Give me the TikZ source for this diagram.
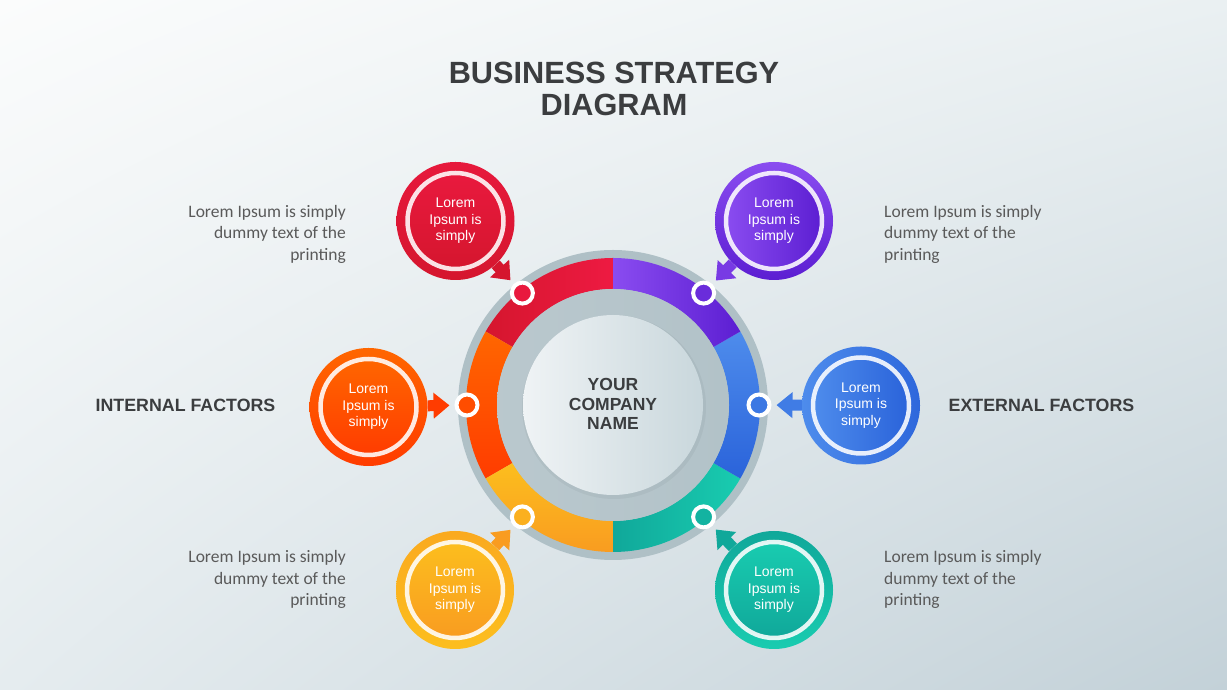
\documentclass[tikz,border=0pt]{standalone}
\usepackage{fontspec}
\setmainfont{Liberation Sans}
\newfontfamily\carl{Carlito}
\usetikzlibrary{arrows.meta,calc,shadings}
\definecolor{bgTL}{HTML}{FBFCFC}
\definecolor{bgTR}{HTML}{EAF0F2}
\definecolor{bgBL}{HTML}{E5ECEF}
\definecolor{bgBR}{HTML}{C3D1D8}
\definecolor{ringgray}{HTML}{AFC0C6}
\definecolor{innergray}{HTML}{B2C2C8}
\definecolor{cenL}{HTML}{EFF3F5}
\definecolor{cenR}{HTML}{C9D7DC}
\definecolor{txtdark}{HTML}{3B3D3F}
\definecolor{txtgray}{HTML}{5A5A5A}
% segment / bubble colours
\definecolor{redL}{HTML}{EE1A42}\definecolor{redD}{HTML}{D5162E}
\definecolor{purL}{HTML}{8A4CF0}\definecolor{purD}{HTML}{5C1ED2}
\definecolor{bluL}{HTML}{4E8CEC}\definecolor{bluD}{HTML}{2A63DA}
\definecolor{teaL}{HTML}{19CCB0}\definecolor{teaD}{HTML}{10A89A}
\definecolor{yelL}{HTML}{FCBE1E}\definecolor{yelD}{HTML}{F99C20}
\definecolor{oraL}{HTML}{FF6600}\definecolor{oraD}{HTML}{FF3C00}
\tikzset{
  dotc/.style={circle, draw=white, line width=4pt, minimum size=21pt, inner sep=0pt},
  bubble/.style={circle, minimum size=118pt, inner sep=0pt},
  bubin/.style={circle, minimum size=96pt, inner sep=0pt, draw=white, draw opacity=0.88,
     line width=4.5pt, text=white, align=center, font=\fontsize{14}{16.5}\selectfont},
  conn/.style={line width=11pt, -{Triangle[width=25pt,length=16pt]}, shorten >=5pt},
  sidetxt/.style={text=txtgray, font=\carl\fontsize{17.5}{21.5}\selectfont, inner sep=0pt},
  factor/.style={text=txtdark, font=\bfseries\fontsize{17.8}{20}\selectfont, inner sep=0pt}
}
\begin{document}
\begin{tikzpicture}[x=1pt,y=1pt]
\useasboundingbox (0,0) rectangle (1227,690);
\shade[upper left=bgTL, upper right=bgTR, lower left=bgBL, lower right=bgBR] (0,0) rectangle (1227,690);

% title
\node[text=txtdark, font=\bfseries\fontsize{30.7}{32}\selectfont, align=center] (title) at (614,601) {BUSINESS STRATEGY\\DIAGRAM};

% main ring
\coordinate (C) at (613,285);
\fill[ringgray] (C) circle (155);
\begin{scope}[shift={(613,285)}]
  \shade[left color=redD, right color=redL] (90:147) arc[start angle=90,end angle=150,radius=147] -- (150:116) arc[start angle=150,end angle=90,radius=116] -- cycle;
  \shade[top color=oraL, bottom color=oraD] (150:147) arc[start angle=150,end angle=210,radius=147] -- (210:116) arc[start angle=210,end angle=150,radius=116] -- cycle;
  \shade[top color=yelL, bottom color=yelD] (210:147) arc[start angle=210,end angle=270,radius=147] -- (270:116) arc[start angle=270,end angle=210,radius=116] -- cycle;
  \shade[left color=teaD, right color=teaL] (270:147) arc[start angle=270,end angle=330,radius=147] -- (330:116) arc[start angle=330,end angle=270,radius=116] -- cycle;
  \shade[top color=bluL, bottom color=bluD] (330:147) arc[start angle=330,end angle=390,radius=147] -- (30:116) arc[start angle=30,end angle=-30,radius=116] -- cycle;
  \shade[left color=purL, right color=purD] (30:147) arc[start angle=30,end angle=90,radius=147] -- (90:116) arc[start angle=90,end angle=30,radius=116] -- cycle;
\end{scope}
\shade[left color=innergray!90!white, right color=innergray] (C) circle (116);
\fill[black, opacity=0.04] ($(C)+(1,-2)$) circle (92);
\shade[left color=cenL, right color=cenR] (C) circle (90);
\node[text=txtdark, font=\bfseries\fontsize{17.5}{19.5}\selectfont, align=center] (company) at (613,286) {YOUR\\COMPANY\\NAME};

% ring dots
\node[dotc, fill=redL!80!redD] (dred) at ($(C)+(129:144)$) {};
\node[dotc, fill=purD!70!purL] (dpur) at ($(C)+(51:144)$) {};
\node[dotc, fill=oraL!40!oraD] (dora) at ($(C)+(180:146)$) {};
\node[dotc, fill=bluL!50!bluD] (dblu) at ($(C)+(0:146)$) {};
\node[dotc, fill=yelL!60!yelD] (dyel) at ($(C)+(231:144)$) {};
\node[dotc, fill=teaD!70!teaL] (dtea) at ($(C)+(309:144)$) {};

% bubbles
\node[bubble, top color=redL!70!redD, bottom color=redD] (bred) at (455.5,469) {};
\node[bubble, top color=purL, bottom color=purD] (bpur) at (774,469) {};
\node[bubble, top color=oraL, bottom color=oraD] (bora) at (368.5,283) {};
\node[bubble, left color=bluL, right color=bluD!90!bluL] (bblu) at (861,284.5) {};
\node[bubble, top color=yelD!60!yelL, bottom color=yelL] (byel) at (455,100) {};
\node[bubble, top color=teaD, bottom color=teaL] (btea) at (774,100) {};

% connectors
\draw[conn, draw=redD] (bred) -- (dred);
\draw[conn, draw=purL!60!purD] (bpur) -- (dpur);
\draw[conn, draw=oraD] (bora) -- (dora);
\draw[conn, draw=bluL!60!bluD] (bblu) -- (dblu);
\draw[conn, draw=yelD] (byel) -- (dyel);
\draw[conn, draw=teaD] (btea) -- (dtea);

% bubble inner discs with text
\node[bubin, top color=redL!80!redD, bottom color=redD] (ired) at (bred) {Lorem\\Ipsum is\\simply};
\node[bubin, left color=purL, right color=purD] (ipur) at (bpur) {Lorem\\Ipsum is\\simply};
\node[bubin, top color=oraL, bottom color=oraD] (iora) at (bora) {Lorem\\Ipsum is\\simply};
\node[bubin, left color=bluL, right color=bluD] (iblu) at (bblu) {Lorem\\Ipsum is\\simply};
\node[bubin, top color=yelL, bottom color=yelD] (iyel) at (byel) {Lorem\\Ipsum is\\simply};
\node[bubin, top color=teaL, bottom color=teaD] (itea) at (btea) {Lorem\\Ipsum is\\simply};

% side texts
\node[sidetxt, anchor=east, align=right] (tl1) at (346,456) {Lorem Ipsum is simply\\dummy text of the\\printing};
\node[sidetxt, anchor=west, align=left] (tr1) at (884,456) {Lorem Ipsum is simply\\dummy text of the\\printing};
\node[sidetxt, anchor=east, align=right] (tl2) at (346,110.5) {Lorem Ipsum is simply\\dummy text of the\\printing};
\node[sidetxt, anchor=west, align=left] (tr2) at (884,110.5) {Lorem Ipsum is simply\\dummy text of the\\printing};

% factors
\node[factor] (internal) at (185.5,285) {INTERNAL FACTORS};
\node[factor] (external) at (1041.5,285) {EXTERNAL FACTORS};
\end{tikzpicture}
\end{document}
